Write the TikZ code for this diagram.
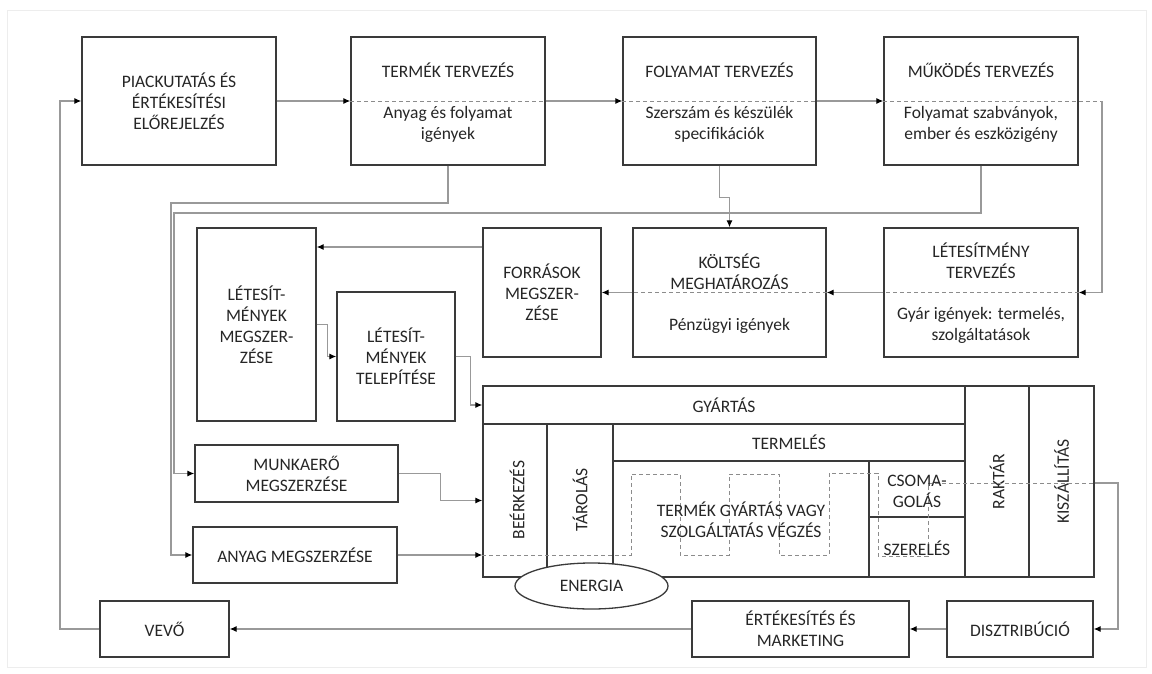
\documentclass[tikz,border=0pt]{standalone}
\usepackage{fontspec}
\setmainfont{Carlito}
\usetikzlibrary{arrows.meta,shapes.geometric}
\definecolor{boxline}{HTML}{3A3A3A}
\definecolor{wirec}{HTML}{999999}
\definecolor{dashc}{HTML}{8C8C8C}
\definecolor{textc}{HTML}{262626}
\begin{document}
\begin{tikzpicture}[x=1pt,y=-1pt,
  font=\fontsize{17.5pt}{21pt}\selectfont,
  every node/.style={text=textc},
  box/.style={draw=boxline,line width=1.3pt,inner sep=0pt,align=center},
  txt/.style={inner sep=0pt,align=center},
  wire/.style={draw=wirec,line width=1.2pt},
  arr/.style={wire,-{Latex[length=7pt,width=6pt,color=black]}},
  split/.style={draw=dashc,line width=1pt,dash pattern=on 4pt off 3pt}]

\useasboundingbox (0,0) rectangle (1152,673);
\draw[draw=black!7,line width=1pt] (7,10) rectangle (1146,667);

% planning row
\node[box,minimum width=194pt,minimum height=128pt] (piac) at (179,101) {PIACKUTATÁS ÉS\\ÉRTÉKESÍTÉSI\\ELŐREJELZÉS};
\node[box,minimum width=194pt,minimum height=128pt] (termek) at (448,101) {};
\node[box,minimum width=193pt,minimum height=128pt] (folyamat) at (719.5,101) {};
\node[box,minimum width=194pt,minimum height=128pt] (mukodes) at (981,101) {};
\node[txt] (termekT) at (448,70) {TERMÉK TERVEZÉS};
\node[txt] (termekS) at (448,124.5) {Anyag és folyamat\\igények};
\node[txt] (folyamatT) at (719.5,70) {FOLYAMAT TERVEZÉS};
\node[txt] (folyamatS) at (719.5,124.5) {Szerszám és készülék\\specifikációk};
\node[txt] (mukodesT) at (981,70) {MŰKÖDÉS TERVEZÉS};
\node[txt] (mukodesS) at (981,124) {Folyamat szabványok,\\ember és eszközigény};

% second row
\node[box,minimum width=194pt,minimum height=129pt] (letes) at (981,292.5) {};
\node[txt] (letesT) at (981,261) {LÉTESÍTMÉNY\\TERVEZÉS};
\node[txt] (letesS) at (981,325) {Gyár igények: termelés,\\szolgáltatások};
\node[box,minimum width=193pt,minimum height=129pt] (koltseg) at (729.5,292.5) {};
\node[txt] (koltsegT) at (729.5,272) {KÖLTSÉG\\MEGHATÁROZÁS};
\node[txt] (koltsegS) at (729.5,326) {Pénzügyi igények};
\node[box,minimum width=118pt,minimum height=129pt] (forras) at (542,292.5) {FORRÁSOK\\MEGSZER-\\ZÉSE};
\node[box,minimum width=119pt,minimum height=193pt] (lmegsz) at (256.5,324.5) {LÉTESÍT-\\MÉNYEK\\MEGSZER-\\ZÉSE};
\node[box,minimum width=118pt,minimum height=129pt] (ltelep) at (396,356.5) {LÉTESÍT-\\MÉNYEK\\TELEPÍTÉSE};
\node[box,minimum width=203pt,minimum height=57pt] (munka) at (296.5,473.5) {MUNKAERŐ\\MEGSZERZÉSE};
\node[box,minimum width=204pt,minimum height=56pt] (anyag) at (295,555) {ANYAG MEGSZERZÉSE};

% production block
\node[box,minimum width=482pt,minimum height=38pt] (gyart) at (724,405) {GYÁRTÁS};
\node[box,minimum width=64pt,minimum height=153pt] (beerk) at (515,500.5) {};
\node[box,minimum width=66pt,minimum height=153pt] (tarol) at (580,500.5) {};
\node[txt,rotate=90] (beerkT) at (517,500) {BEÉRKEZÉS};
\node[txt,rotate=90] (tarolT) at (580,500) {TÁROLÁS};
\node[box,minimum width=352pt,minimum height=37pt] (termeles) at (789,442.5) {TERMELÉS};
\node[box,minimum width=256pt,minimum height=116pt] (tgy) at (741,519) {};
\node[box,minimum width=96pt,minimum height=56pt] (csoma) at (917,489) {};
\node[box,minimum width=96pt,minimum height=60pt] (szerel) at (917,547) {};
\node[box,minimum width=64pt,minimum height=191pt] (raktar) at (997,481.5) {};
\node[box,minimum width=65pt,minimum height=191pt] (kiszall) at (1061.5,481.5) {};
\node[txt,rotate=90] (raktarT) at (997,481.5) {RAKTÁR};
\node[txt,rotate=90] (kiszallT) at (1061.5,481.5) {KISZÁLLÍTÁS};

% flow of material through the production block
\draw[arr] (anyag.east) -- (beerk.west |- anyag.east);
\draw[split] (beerk.west |- anyag.east) -- (631,555) -- (631,474) -- (680,474)
  -- (680,555) -- (729,555) -- (729,474) -- (779,474) -- (779,555) -- (829,555)
  -- (829,473) -- (878,473) -- (878,556) -- (928,556) -- (928,483)
  -- (kiszall.east |- 0,483);
\node[txt] (tgyT) at (741,520) {TERMÉK GYÁRTÁS VAGY\\SZOLGÁLTATÁS VÉGZÉS};
\node[txt] (csomaT) at (917,491) {CSOMA-\\GOLÁS};
\node[txt] (szerelT) at (917,548) {SZERELÉS};

\node[draw=boxline,line width=1.3pt,fill=white,ellipse,inner sep=0pt,
      minimum width=153pt,minimum height=46pt] (energia) at (591.5,586) {ENERGIA};

% bottom row
\node[box,minimum width=129pt,minimum height=56pt] (vevo) at (164.5,629) {VEVŐ};
\node[box,minimum width=217pt,minimum height=56pt] (ertek) at (800.5,629) {ÉRTÉKESÍTÉS ÉS\\MARKETING};
\node[box,minimum width=146pt,minimum height=56pt] (diszt) at (1020,629) {DISZTRIBÚCIÓ};

% routing points
\coordinate (rc1) at (1102,101);
\coordinate (rc3) at (1118,483);
\coordinate (rc4) at (60,629);
\coordinate (tl) at (171,203);
\coordinate (ml) at (174,213);

% planning chain
\draw[arr] (piac.east) -- (termek.west);
\draw[split] (termek.west) -- (termek.east);
\draw[arr] (termek.east) -- (folyamat.west);
\draw[split] (folyamat.west) -- (folyamat.east);
\draw[arr] (folyamat.east) -- (mukodes.west);
\draw[split] (mukodes.west) -- (mukodes.east) -- (rc1);
\draw[arr] (rc1) |- (letes.east);
\draw[split] (letes.east) -- (letes.west);
\draw[arr] (letes.west) -- (koltseg.east);
\draw[split] (koltseg.east) -- (koltseg.west);
\draw[arr] (koltseg.west) -- (forras.east);
\draw[arr] (folyamat.south) -- ++(0,32) -| (koltseg.north);

% requirements feeding the acquisitions
\draw[arr] (termek.south) |- (tl) |- (anyag.west);
\draw[arr] (mukodes.south) |- (ml) |- (munka.west);
\draw[arr] (forras.west |- 0,247) -- (lmegsz.east |- 0,247);
\draw[arr] (lmegsz.east) -- ++(11,0) |- (ltelep.west);
\draw[arr] (ltelep.east) -- ++(15,0) |- (gyart.west);
\draw[arr] (munka.east) -- ++(42,0) |- (beerk.west);

% distribution back to the customer
\draw[arr] (kiszall.east |- 0,483) -- (rc3) |- (diszt.east);
\draw[arr] (diszt.west) -- (ertek.east);
\draw[arr] (ertek.west) -- (vevo.east);
\draw[arr] (vevo.west) -- (rc4) |- (piac.west);
\end{tikzpicture}
\end{document}
